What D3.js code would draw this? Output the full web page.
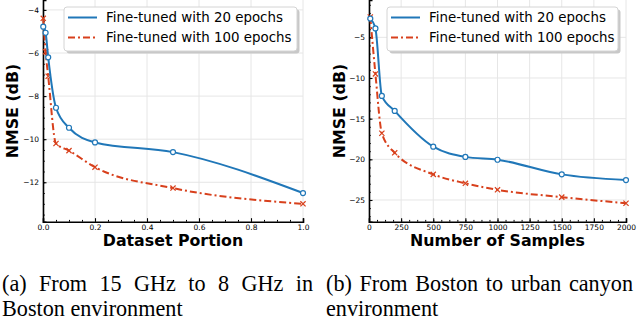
<!DOCTYPE html>
<html>
<head>
<meta charset="utf-8">
<script src="https://cdn.jsdelivr.net/npm/d3@7"></script>
<style>
  body { margin: 0; background: #fff; }
  svg { display: block; }
  .tick text { font-family: "DejaVu Sans", sans-serif; font-size: 7.5px; fill: #000; }
  .axis-label { font-family: "DejaVu Sans", sans-serif; font-weight: bold; font-size: 15.8px; }
  .legend text { font-family: "DejaVu Sans", sans-serif; font-size: 13.4px; }
  .caption { font-family: "Liberation Serif", "Times New Roman", serif; font-size: 22.2px; }
</style>
</head>
<body>
<div id="main"></div>
<script>
// Data, panel (a)
const portion = [0.001, 0.01, 0.02, 0.05, 0.1, 0.2, 0.5, 1.0];
const nmse20a = [-4.78, -5.06, -6.2, -8.54, -9.47, -10.15, -10.6, -12.5];
const nmse100a = [-4.39, -5.94, -7.08, -10.2, -10.53, -11.3, -12.27, -13.0];
const xTicksA = [0, 0.2, 0.4, 0.6, 0.8, 1.0];
const yTicksA = [-4, -6, -8, -10, -12];

// Data, panel (b)
const samples = [10, 50, 100, 200, 500, 750, 1000, 1500, 2000];
const nmse20b = [-2.7, -3.9, -12.2, -14.05, -18.45, -19.7, -20.05, -21.85, -22.55];
const nmse100b = [-2.5, -9.5, -16.8, -19.2, -21.85, -22.95, -23.75, -24.65, -25.4];
const xTicksB = [0, 250, 500, 750, 1000, 1250, 1500, 1750, 2000];
const yTicksB = [-5, -10, -15, -20, -25];

const seriesNames = ["Fine-tuned with 20 epochs", "Fine-tuned with 100 epochs"];
const blue = "#2077b8";
const red = "#d8401c";

const svg = d3.select("#main").append("svg").attr("width", 640).attr("height", 320);

const panels = [
  {
    left: 43, right: 303, top: 0, bottom: 221.7,
    xDomain: [0, 1], yDomain: [-13.83, -3.54],
    xTicks: xTicksA, yTicks: yTicksA,
    xMinorStep: 0.05, yMinorStep: 0.5,
    xFormat: d3.format(".1f"),
    xs: portion, s20: nmse20a, s100: nmse100a,
    xLabel: "Dataset Portion", yLabelX: 12,
    legend: { x: 64, w: 233 },
    caption: ["(a) From 15 GHz to 8 GHz in", "Boston environment"],
    capX: 2, capW: 311,
  },
  {
    left: 369, right: 626, top: 0, bottom: 221.7,
    xDomain: [0, 2000], yDomain: [-27.67, -0.41],
    xTicks: xTicksB, yTicks: yTicksB,
    xMinorStep: 62.5, yMinorStep: 1,
    xFormat: d3.format("d"),
    xs: samples, s20: nmse20b, s100: nmse100b,
    xLabel: "Number of Samples", yLabelX: 339,
    legend: { x: 387, w: 231 },
    caption: ["(b) From Boston to urban canyon", "environment"],
    capX: 326, capW: 307,
  },
];

panels.forEach((p) => {
  const x = d3.scaleLinear().domain(p.xDomain).range([p.left, p.right]);
  const y = d3.scaleLinear().domain(p.yDomain).range([p.bottom, p.top]);
  const g = svg.append("g");

  // grid
  g.append("g")
    .selectAll("line.gx")
    .data(p.xTicks)
    .join("line")
    .attr("x1", (d) => x(d)).attr("x2", (d) => x(d))
    .attr("y1", p.top).attr("y2", p.bottom)
    .attr("stroke", "#e6e6e6").attr("stroke-width", 1);
  g.append("g")
    .selectAll("line.gy")
    .data(p.yTicks)
    .join("line")
    .attr("x1", p.left).attr("x2", p.right)
    .attr("y1", (d) => y(d)).attr("y2", (d) => y(d))
    .attr("stroke", "#e6e6e6").attr("stroke-width", 1);

  // minor ticks
  const xMinor = d3.range(p.xDomain[0], p.xDomain[1] + 1e-9, p.xMinorStep);
  const yMinor = d3.range(Math.ceil(p.yDomain[0] / p.yMinorStep) * p.yMinorStep, p.yDomain[1], p.yMinorStep);
  g.append("g")
    .attr("transform", `translate(0,${p.bottom})`)
    .call(d3.axisBottom(x).tickValues(xMinor).tickSize(-1.8).tickFormat(""))
    .call((a) => a.select(".domain").remove())
    .selectAll("line").attr("stroke-width", 1);
  g.append("g")
    .attr("transform", `translate(${p.left},0)`)
    .call(d3.axisLeft(y).tickValues(yMinor).tickSize(-1.8).tickFormat(""))
    .call((a) => a.select(".domain").remove())
    .selectAll("line").attr("stroke-width", 1);

  // major axes
  const xa = g.append("g")
    .attr("transform", `translate(0,${p.bottom})`)
    .call(d3.axisBottom(x).tickValues(p.xTicks).tickSize(-3.5).tickPadding(2.5).tickFormat(p.xFormat));
  const ya = g.append("g")
    .attr("transform", `translate(${p.left},0)`)
    .call(d3.axisLeft(y).tickValues(p.yTicks).tickSize(-3.5).tickPadding(4));
  [xa, ya].forEach((a) => {
    a.select(".domain").attr("stroke", "#000").attr("stroke-width", 1.6);
    a.selectAll(".tick line").attr("stroke-width", 1.1);
  });

  // lines
  const line = (ys) =>
    d3.line().curve(d3.curveMonotoneX).x((d, i) => x(p.xs[i])).y((d) => y(d))(ys);

  g.append("path")
    .attr("d", line(p.s100))
    .attr("fill", "none").attr("stroke", red).attr("stroke-width", 2)
    .attr("stroke-dasharray", "7,3,2,3");
  g.append("g")
    .selectAll("path")
    .data(p.s100)
    .join("path")
    .attr("transform", (d, i) => `translate(${x(p.xs[i])},${y(d)})`)
    .attr("d", "M-2.6,-2.6L2.6,2.6M-2.6,2.6L2.6,-2.6")
    .attr("stroke", red).attr("stroke-width", 1.2);

  g.append("path")
    .attr("d", line(p.s20))
    .attr("fill", "none").attr("stroke", blue).attr("stroke-width", 2);
  g.append("g")
    .selectAll("circle")
    .data(p.s20)
    .join("circle")
    .attr("cx", (d, i) => x(p.xs[i]))
    .attr("cy", (d) => y(d))
    .attr("r", 2.5)
    .attr("fill", "#fff").attr("stroke", blue).attr("stroke-width", 1.2);

  // labels
  g.append("text")
    .attr("class", "axis-label")
    .attr("text-anchor", "middle")
    .attr("x", (p.left + p.right) / 2)
    .attr("y", 245.5)
    .text(p.xLabel);
  g.append("text")
    .attr("class", "axis-label")
    .attr("text-anchor", "middle")
    .attr("dominant-baseline", "central")
    .attr("transform", `translate(${p.yLabelX},111) rotate(-90)`)
    .text("NMSE (dB)");

  // legend
  const lg = g.append("g").attr("class", "legend").attr("transform", `translate(${p.legend.x},7)`);
  lg.append("rect")
    .attr("x", 2.5).attr("y", 2.5).attr("width", p.legend.w).attr("height", 44)
    .attr("rx", 3).attr("fill", "#c8c8c8");
  lg.append("rect")
    .attr("width", p.legend.w).attr("height", 44)
    .attr("rx", 3).attr("fill", "#fff").attr("stroke", "#d4d4d4").attr("stroke-width", 1);
  const styles = [
    { color: blue, dash: null },
    { color: red, dash: "7,3,2,3" },
  ];
  seriesNames.forEach((name, i) => {
    const yy = 10.5 + i * 20;
    lg.append("line")
      .attr("x1", 4).attr("x2", 33).attr("y1", yy).attr("y2", yy)
      .attr("stroke", styles[i].color).attr("stroke-width", 2)
      .attr("stroke-dasharray", styles[i].dash);
    lg.append("text")
      .attr("x", 42).attr("y", yy)
      .attr("dominant-baseline", "central")
      .text(name);
  });

  // caption, first line justified
  const words = p.caption[0].split(" ");
  const cg = g.append("g").attr("class", "caption");
  const nodes = words.map((w) => cg.append("text").attr("y", 291).text(w));
  const widths = nodes.map((n) => n.node().getComputedTextLength());
  const gap = (p.capW - d3.sum(widths)) / (words.length - 1);
  let cx = p.capX;
  nodes.forEach((n, i) => {
    n.attr("x", cx);
    cx += widths[i] + gap;
  });
  cg.append("text").attr("x", p.capX).attr("y", 315.5).text(p.caption[1]);
});
</script>
</body>
</html>
